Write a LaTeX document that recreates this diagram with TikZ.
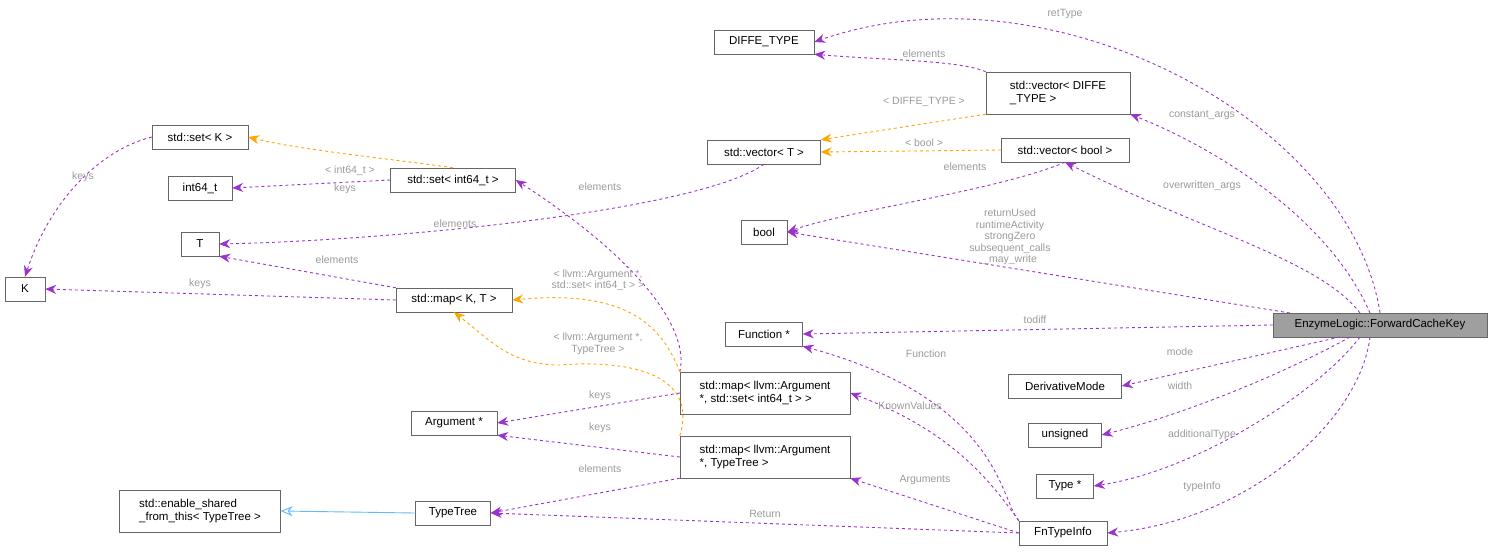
\documentclass[tikz,border=0pt]{standalone}
\usepackage{fontspec}
\setmainfont{Liberation Sans}
\usetikzlibrary{arrows.meta}
\definecolor{usecol}{HTML}{9A32CD}
\definecolor{tplcol}{HTML}{FFA500}
\definecolor{inhcol}{HTML}{63B8FF}
\definecolor{lblcol}{HTML}{9A9A9A}
\definecolor{boxcol}{HTML}{666666}
\tikzset{
  cls/.style={draw=boxcol, fill=white, rectangle, inner sep=2pt, minimum height=24pt,
    font=\fontsize{11.5}{13}\selectfont, align=left},
  use/.style={-{Stealth[length=11pt,width=9pt]}, usecol, dashed, line width=0.9pt},
  tpl/.style={-{Stealth[length=11pt,width=9pt]}, tplcol, dashed, line width=0.9pt},
  inh/.style={-{Stealth[length=12pt,width=10pt,open]}, inhcol, line width=0.9pt},
  lbl/.style={text=lblcol, font=\fontsize{10.5}{11.5}\selectfont, align=center, inner sep=1pt}
}
\begin{document}
\begin{tikzpicture}[x=1pt,y=-1pt]
    \useasboundingbox (0,0) rectangle (1492,552);

    % Classes
    \node[cls, minimum width=214pt, fill=gray!75, align=center] (Key) at (1380,325) {EnzymeLogic::ForwardCacheKey};
    \node[cls, minimum width=100pt] (Diffe) at (764,42) {DIFFE\_TYPE};
    \node[cls, minimum width=144pt, minimum height=42pt] (VecDiffe) at (1058,93) {std::vector< DIFFE\\\_TYPE >};
    \node[cls, minimum width=113pt] (VecT) at (764,152) {std::vector< T >};
    \node[cls, minimum width=128pt] (VecBool) at (1065,150) {std::vector< bool >};
    \node[cls, minimum width=96pt] (SetK) at (200,137) {std::set< K >};
    \node[cls, minimum width=64pt] (Int) at (200,188) {int64\_t};
    \node[cls, minimum width=125pt] (SetInt) at (453,180) {std::set< int64\_t >};
    \node[cls, minimum width=38pt] (T) at (200,244) {T};
    \node[cls, minimum width=40pt] (K) at (25,289) {K};
    \node[cls, minimum width=46pt] (Bool) at (764,232) {bool};
    \node[cls, minimum width=116pt] (MapKT) at (454,300) {std::map< K, T >};
    \node[cls, minimum width=77pt] (Func) at (764,334) {Function *};
    \node[cls, minimum width=113pt] (Mode) at (1065,386) {DerivativeMode};
    \node[cls, minimum width=170pt, minimum height=42pt] (MapSet) at (765,393) {std::map< llvm::Argument\\ *, std::set< int64\_t > >};
    \node[cls, minimum width=86pt] (Arg) at (454,423) {Argument *};
    \node[cls, minimum width=73pt] (Unsigned) at (1065,435) {unsigned};
    \node[cls, minimum width=170pt, minimum height=42pt] (MapTT) at (765,457) {std::map< llvm::Argument\\ *, TypeTree >};
    \node[cls, minimum width=57pt] (Type) at (1065,486) {Type *};
    \node[cls, minimum width=161pt, minimum height=42pt] (Shared) at (200,511) {std::enable\_shared\\\_from\_this< TypeTree >};
    \node[cls, minimum width=75pt] (TT) at (453,513) {TypeTree};
    \node[cls, minimum width=88pt] (FnTI) at (1063,533) {FnTypeInfo};

    % Members of ForwardCacheKey
    \draw[use] (Key.north) .. controls (1350,120) and (1050,-40) .. (Diffe.east)
        node[lbl] at (1065,14) {retType};
    \draw[use] (1370,313) .. controls (1330,220) and (1220,150) .. (VecDiffe.south east)
        node[lbl] at (1202,115) {constant\_args};
    \draw[use] (1360,313) .. controls (1320,260) and (1200,230) .. (VecBool.south)
        node[lbl] at (1202,186) {overwritten\_args};
    \draw[use] (1290,313) -- (Bool.east)
        node[lbl] at (1010,237) {returnUsed\\runtimeActivity\\strongZero\\subsequent\_calls\\\_may\_write};
    \draw[use] (Key.west) -- (Func.east) node[lbl] at (1035,320) {todiff};
    \draw[use] (1340,337) -- (Mode.east) node[lbl] at (1180,352) {mode};
    \draw[use] (1350,337) .. controls (1300,365) and (1200,410) .. (Unsigned.east) node[lbl] at (1180,386) {width};
    \draw[use] (1360,337) .. controls (1320,390) and (1200,470) .. (Type.east) node[lbl] at (1202,435) {additionalType};
    \draw[use] (1370,337) .. controls (1360,420) and (1250,520) .. (FnTI.east) node[lbl] at (1202,487) {typeInfo};

    % Containers
    \draw[use] (VecDiffe.north west) .. controls (960,60) and (880,60) .. (Diffe.south east) node[lbl] at (924,54) {elements};
    \draw[tpl] (VecDiffe.south west) -- (VecT.north east) node[lbl] at (924,102) {< DIFFE\_TYPE >};
    \draw[tpl] (VecBool.west) -- (VecT.east) node[lbl] at (924,143) {< bool >};
    \draw[use] (VecBool.south) .. controls (1000,190) and (850,210) .. (Bool.east) node[lbl] at (965,167) {elements};
    \draw[use] (VecT.south) .. controls (700,210) and (400,240) .. (T.east) node[lbl] at (455,224) {elements};
    \draw[tpl] (SetInt.north) .. controls (400,160) and (300,150) .. (SetK.east) node[lbl] at (350,171) {< int64\_t >};
    \draw[use] (SetInt.west) -- (Int.east) node[lbl] at (345,189) {keys};
    \draw[use] (SetK.west) .. controls (100,150) and (50,200) .. (K.north) node[lbl] at (83,177) {keys};
    \draw[use] (MapKT.north west) -- (T.south east) node[lbl] at (337,260) {elements};
    \draw[use] (MapKT.west) -- (K.east) node[lbl] at (200,284) {keys};
    \draw[use] (MapSet.north west) .. controls (690,330) and (640,260) .. (SetInt.east) node[lbl] at (600,187) {elements};
    \draw[tpl] (MapSet.north west) .. controls (660,320) and (620,290) .. (MapKT.east)
        node[lbl] at (598,280) {< llvm::Argument *,\\std::set< int64\_t > >};
    \draw[tpl] (MapTT.north west) .. controls (700,370) and (620,360) .. (560,365) .. controls (510,365) and (490,340) .. (MapKT.south)
        node[lbl] at (598,344) {< llvm::Argument *,\\TypeTree >};
    \draw[use] (MapSet.west) -- (Arg.east) node[lbl] at (600,396) {keys};
    \draw[use] (MapTT.west) -- (Arg.south east) node[lbl] at (600,428) {keys};
    \draw[use] (MapTT.south west) -- (TT.east) node[lbl] at (600,469) {elements};
    \draw[inh] (TT.west) -- (Shared.east);

    % FnTypeInfo members
    \draw[use] (FnTI.north west) .. controls (1000,500) and (1000,400) .. (Func.south east) node[lbl] at (926,354) {Function};
    \draw[use] (FnTI.north west) .. controls (990,480) and (950,430) .. (MapSet.east) node[lbl] at (910,406) {KnownValues};
    \draw[use] (FnTI.west) -- (MapTT.south east) node[lbl] at (925,480) {Arguments};
    \draw[use] (FnTI.west) -- (TT.east) node[lbl] at (765,514) {Return};
\end{tikzpicture}
\end{document}
